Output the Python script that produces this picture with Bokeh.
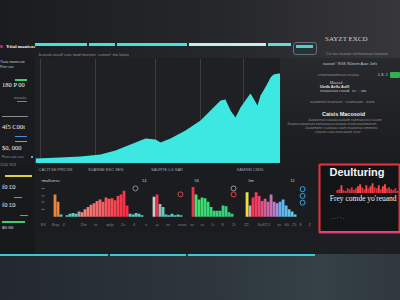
from bokeh.plotting import figure
from bokeh.layouts import column, row
from bokeh.models import Div, Range1d, Span, Label
from bokeh.embed import file_html
from bokeh.resources import INLINE
from bokeh.core.properties import value

# ---------------- data ----------------
# main area series (position along chart, level)
area_t = [0, 25, 45, 65, 80, 95, 110, 120, 125, 135, 150, 165, 175, 185, 190,
          195, 200, 205, 212, 215, 218, 222, 225, 228, 232, 235, 238, 243, 245]
area_v = [4, 5, 6, 8, 12, 18, 24, 23, 20, 24, 32, 42, 52, 62, 63,
          52, 45, 55, 65, 69, 64, 57, 67, 72, 79, 85, 88, 89, 89]
grid_ticks = [5, 60, 120, 165, 208]

# lower bar chart (one value per slot, 0 = gap)
bar_h = [0, 30, 20, 3, 0, 2, 4, 5, 4, 7,
         6, 10, 13, 16, 18, 21, 23, 20, 26, 24,
         25, 22, 28, 30, 35, 15, 4, 3, 5, 4,
         2, 0, 0, 0, 27, 30, 17, 13, 3, 2,
         4, 2, 3, 2, 0, 0, 0, 40, 30, 23,
         26, 25, 20, 13, 8, 8, 8, 15, 14, 6,
         4, 0, 0, 0, 0, 33, 15, 26, 33, 28,
         21, 24, 20, 30, 20, 18, 20, 23, 15, 10,
         7, 3, 0]
ring_x = [27.8, 42.8, 60.5, 60.5, 83.5, 83.5, 83.5]
ring_y = [38, 30, 38, 30, 37, 28, 19]
group_titles = ["CACITGN PRICSS", "SUANNE BSC SEN", "SAURTE LG SAR", "XAMSIN CMXL"]
group_title_x = [-4.5, 12.0, 33.0, 61.5]
group_sub = ["\u00b7\u00b7malfuinss \u00b7", "14", "56", "ltm", "11"]
group_sub_x = [-4.0, 30.0, 47.5, 65.5, 79.5]
tick_labels = ["SV", "Bup", "4", "2lw", "io", "splp", "2x", "4", "u", "\u03c9", "zs", "nsxe",
               "sz", "zc", "1i", "8", "2f", "Z\u03a3", "Sulll2", "5", "ss", "60", "25", "8", "Z"]
tick_x = [-3.8, 0.0, 3.5, 9.5, 14.0, 18.0, 23.0, 27.0, 31.0, 34.5, 38.0, 42.0,
          46.0, 49.5, 53.0, 56.5, 60.0, 64.0, 68.5, 72.0, 75.0, 77.5, 80.0, 82.5, 85.5]
ytick_levels = [10, 20, 28, 38, 48]

# mini bars inside the red panel
mini_h = [3, 4, 8, 3, 2, 5, 4, 6, 3, 5, 7, 9, 6, 4, 8,
          5, 7, 10, 6, 5, 8, 4, 7, 9, 5, 6, 4, 3, 5, 2]

# ---------------- styles ----------------
BG = "#1c1e21"
CYAN = "#3fe4df"


def lerp(c1, c2, t):
    a = [int(c1[i:i + 2], 16) for i in (1, 3, 5)]
    b = [int(c2[i:i + 2], 16) for i in (1, 3, 5)]
    return "#%02x%02x%02x" % tuple(int(a[k] + (b[k] - a[k]) * t) for k in range(3))


bar_colors = []
for i in range(len(bar_h)):
    if i <= 2:
        c = "#e8843c"
    elif i <= 8:
        c = "#5ccfc0"
    elif i == 9:
        c = "#9aa4a8"
    elif i <= 25:
        c = lerp("#f08a80", "#ff2a44", (i - 10) / 15)
    elif i <= 33:
        c = "#5ccfc0"
    elif i == 34:
        c = "#c8cdd0"
    elif i == 35:
        c = "#ee3048"
    elif i == 36:
        c = "#a8b0b4"
    elif i <= 46:
        c = "#5ccfc0"
    elif i == 47:
        c = "#f0304a"
    elif i <= 64:
        c = lerp("#3fe070", "#30c890", (i - 48) / 16)
    elif i == 65:
        c = "#e8e040"
    elif i == 66:
        c = "#c0a8b8"
    elif i <= 75:
        c = lerp("#ff3050", "#b088d8", (i - 67) / 8)
    else:
        c = lerp("#60b0f0", "#60d8e8", (i - 76) / 6)
    bar_colors.append(c)
ring_colors = ["#8a8f94", "#e8404a", "#9aa0a4", "#e8404a", "#3aa8e8", "#3aa8e8", "#3aa8e8"]
mini_colors = ["#ff4a4a" if v >= 7 else "#d8303a" for v in mini_h]


def box(l, t, w, h, color, extra=""):
    return (f'<div style="position:absolute;left:{l}px;top:{t}px;width:{w}px;height:{h}px;'
            f'background:{color};{extra}"></div>')


def txt(l, t, s, size, color="#e6e6e6", weight="normal", family="Liberation Sans", extra=""):
    return (f'<div style="position:absolute;left:{l}px;top:{t}px;font-size:{size}px;line-height:1;'
            f'color:{color};font-weight:{weight};font-family:\'{family}\';white-space:nowrap;{extra}">{s}</div>')


def panel(w, h, bg, items):
    return (f'<div style="position:relative;width:{w}px;height:{h}px;background:{bg};overflow:hidden;'
            f'margin:0;padding:0">' + "".join(items) + '</div>')


def mkdiv(w, h, bg, items):
    return Div(text=panel(w, h, bg, items), width=w, height=h,
               styles={"margin": "0", "padding": "0", "background-color": BG})


SMALL = "#8e9296"
LIGHT = "#c8ccd0"

# ---------------- top strip ----------------
top_items = [
    box(0, 45, 3, 3, "#c0307a", "border-radius:2px"),
    txt(6, 44, "Ytial mauicas", 5, "#f0f0f0", "bold", "Liberation Serif"),
    box(35, 43, 52, 3, CYAN), box(89, 43, 26, 3, CYAN), box(117, 43, 70, 3, CYAN),
    box(189, 43, 77, 3, "#bff0ee"), box(268, 43, 23, 3, "#6fd6d6"),
    box(293, 42, 24, 13, "#25343a", "border:1px solid #6a6e72;border-radius:3px;box-sizing:border-box"),
    box(296, 45, 17, 3, "#5fc8c8"),
    txt(38, 53, "Jicaram ataulf catu mad tmunion &nbsp;cumorf &nbsp;ma lutiou", 4, SMALL),
    txt(192, 53, "\u00b7", 4, SMALL),
    txt(325, 36, "SAYZT EXCD", 7, "#cfcfcf", "normal", "Liberation Serif"),
    txt(326, 53, "Crs toc tscoutn rechutsncan tiueantn", 3.8, SMALL),
]
top_div = mkdiv(400, 58, "linear-gradient(90deg,#1b1c20 0%,#26272b 55%,#37373b 100%)", top_items)

# ---------------- row 1 ----------------
l1_items = [
    txt(0, 3, "Tiuia niamcuat", 3.8, LIGHT),
    txt(0, 8, "Prer uut", 3.8, LIGHT),
    box(15, 21, 12, 1.5, "#3fcf6f"),
    txt(2, 24, "180 P 00", 6.5, "#f2f2f2", "normal", "Liberation Serif"),
    txt(14, 39, "ounaitu", 3.8, SMALL),
    box(17, 43, 10, 1, "#4a8ae0"),
    box(2, 58, 26, 1, "#8a8e92"),
    txt(2, 66, "4f5 C00t", 6.5, "#f2f2f2", "normal", "Liberation Serif"),
    box(15, 78, 12, 1, "#4a8ae0"), box(15, 83, 12, 1, "#3fcf6f"),
    txt(2, 87, "$0, 000", 6.5, "#f2f2f2", "normal", "Liberation Serif"),
    txt(2, 98, "Fius cao cuu", 3.8, SMALL),
    box(31, 98, 2, 2, "#4ab0f0"),
]
l1_div = mkdiv(35, 105, "#191b1e", l1_items)

main = figure(width=245, height=105, x_range=Range1d(0, 245), y_range=Range1d(-1, 104),
              x_axis_location=None, y_axis_location=None, min_border=0,
              output_backend="svg", toolbar_location=None,
              background_fill_color="#1e2023", border_fill_color=BG, outline_line_color=None,
              styles={"background-color": BG})
main.grid.visible = False
for g in grid_ticks:
    main.add_layout(Span(location=g, dimension="height", line_color="#3a3d42", line_width=1,
                         level="underlay"))
main.varea(x=area_t, y1=0, y2=area_v, fill_color="#3de8e2")
main.add_layout(Span(location=-0.2, dimension="width", line_color=CYAN, line_width=2))

r1_items = [
    txt(43, 5, "raaruel ' RGS SUeem Auor Jiels", 3.8, LIGHT),
    txt(38, 16, "cneenaeamnuun ncutaa", 3.8, SMALL),
    txt(98, 16, "\u00a3 8. 2", 3.8, LIGHT),
    box(110, 14, 10, 6, "#2fb24a", "border-radius:1px"),
    txt(50, 24, "Mauuul", 3.8, LIGHT),
    txt(40, 28, "Uirdb Aellu Aulll", 3.8, "#e0e0e0", "bold"),
    txt(40, 32, "ruuuucuuu csuud &nbsp; iu \u00b7 \u00b7 uio", 3.8, LIGHT),
    txt(60, 36, "\u00b7 \u00b7 \u00b7", 3.8, SMALL),
    txt(30, 43, "scaemnnt luuenurn &nbsp; cuamuuon &nbsp; ouim", 3.8, SMALL),
    txt(42, 54, "Caisis Macosoid", 5.5, "#f0f0f0", "bold"),
    txt(28, 61, "Jaaanenuu cuauaccauaum naenuacucu cuuam", 3.5, SMALL),
    txt(7, 65, "Juuanucuoeanutu nonuuaacucuuuaau nuuecuuasmanum", 3.5, SMALL),
    txt(25, 69, "Juuarmenn cuaeuua cuam ncaounuu ommunu", 3.5, SMALL),
    txt(35, 73, "cuaceu cuau euucuaum scuu", 3.5, SMALL),
]
r1_div = mkdiv(120, 105, "linear-gradient(180deg,#28292d 0%,#202124 60%,#1b1c1f 100%)", r1_items)

# ---------------- row 2 ----------------
l2_items = [
    txt(0, 1, "1150 S13", 3.8, SMALL),
    box(5, 12, 27, 2, "#e0d040"),
    txt(2, 21, "f0 \u00a30", 6.5, "#f2f2f2", "normal", "Liberation Serif"),
    box(14, 34, 8, 1, "#8a8e92"),
    txt(2, 39, "f0 \u00a30", 6.5, "#f2f2f2", "normal", "Liberation Serif"),
    box(20, 52, 8, 1, "#8a8e92"),
    box(2, 58, 23, 1.5, "#3fcf6f"),
    txt(2, 62, "$0 00", 5, "#e0e0e0", "normal", "Liberation Serif"),
]
l2_div = mkdiv(35, 91, "#17191b", l2_items)

bars = figure(width=283, height=91, x_range=Range1d(-5.5, 88.8), y_range=Range1d(-21, 70),
              x_axis_location=None, y_axis_location=None, min_border=0,
              output_backend="svg", toolbar_location=None,
              background_fill_color="#1a1c1f", border_fill_color=BG, outline_line_color=None,
              styles={"background-color": BG})
bars.grid.visible = False
bars.scatter(x=[-3.0] * len(ytick_levels), y=ytick_levels, marker="dash", size=3,
             line_color="#6a6e72", line_width=1)
bars.vbar(x=list(range(len(bar_h))), top=bar_h, bottom=0, width=0.95,
          fill_color=bar_colors, line_color=None)
bars.scatter(x=ring_x, y=ring_y, size=5, marker="circle", fill_color=None,
             line_color=ring_colors, line_width=1)
bars.text(x=group_title_x, y=[63] * len(group_titles), text=group_titles,
          text_font=value("Liberation Sans"), text_font_size="4px", text_color="#a0a4a8",
          text_baseline="middle")
bars.text(x=group_sub_x, y=[49] * len(group_sub), text=group_sub,
          text_font=value("Liberation Sans"), text_font_size="4px", text_color="#c8ccd0",
          text_baseline="middle")
bars.text(x=tick_x, y=[-10] * len(tick_labels), text=tick_labels,
          text_font=value("Liberation Sans"), text_font_size="4px", text_color="#7d8287",
          text_baseline="middle")

red = figure(width=82, height=91, x_range=Range1d(-8.6, 30.5), y_range=Range1d(-40, 29),
             x_axis_location=None, y_axis_location=None,
             min_border_left=1, min_border_right=0, min_border_top=1, min_border_bottom=22,
             output_backend="svg", toolbar_location=None,
             background_fill_color="#131416", border_fill_color=BG,
             outline_line_color="#e8323c", outline_line_width=2,
             styles={"background-color": BG})
red.grid.visible = False
red.vbar(x=list(range(len(mini_h))), top=mini_h, bottom=0, width=0.9,
         fill_color=mini_colors, line_color=None)
red.add_layout(Span(location=-39.4, dimension="width", line_color="#d8449c", line_width=2,
                    level="overlay"))
red.add_layout(Label(x=-3.8, y=15, text="Deulturing", text_font="Liberation Sans",
                     text_font_size="11px", text_font_style="bold", text_color="#f4f4f4"))
red.add_layout(Label(x=-3.6, y=-10, text="Frey comde yo'reuand", text_font="Liberation Serif",
                     text_font_size="7.5px", text_color="#f0f0f0"))
red.add_layout(Label(x=-3.0, y=-27, text=".   .   \u00b7   \u00b7   .", text_font="Liberation Sans",
                     text_font_size="5px", text_color="#d0d0d0"))

# ---------------- bottom ----------------
bot_items = [
    box(0, 0, 108, 2, "#3cc8d0"), box(110, 0, 76, 2, "#3cc8d0"), box(188, 0, 127, 2, "#3cc8d0"),
]
bot_div = mkdiv(400, 46, "linear-gradient(90deg,#23292e 0%,#2e373e 55%,#354047 80%,#2f383e 100%)", bot_items)

S = {"background-color": BG}
layout = column(top_div,
                row(l1_div, main, r1_div, spacing=0, styles=S),
                row(l2_div, bars, red, spacing=0, styles=S),
                bot_div, spacing=0, styles=S)

open("out.html", "w").write(file_html(layout, INLINE))
